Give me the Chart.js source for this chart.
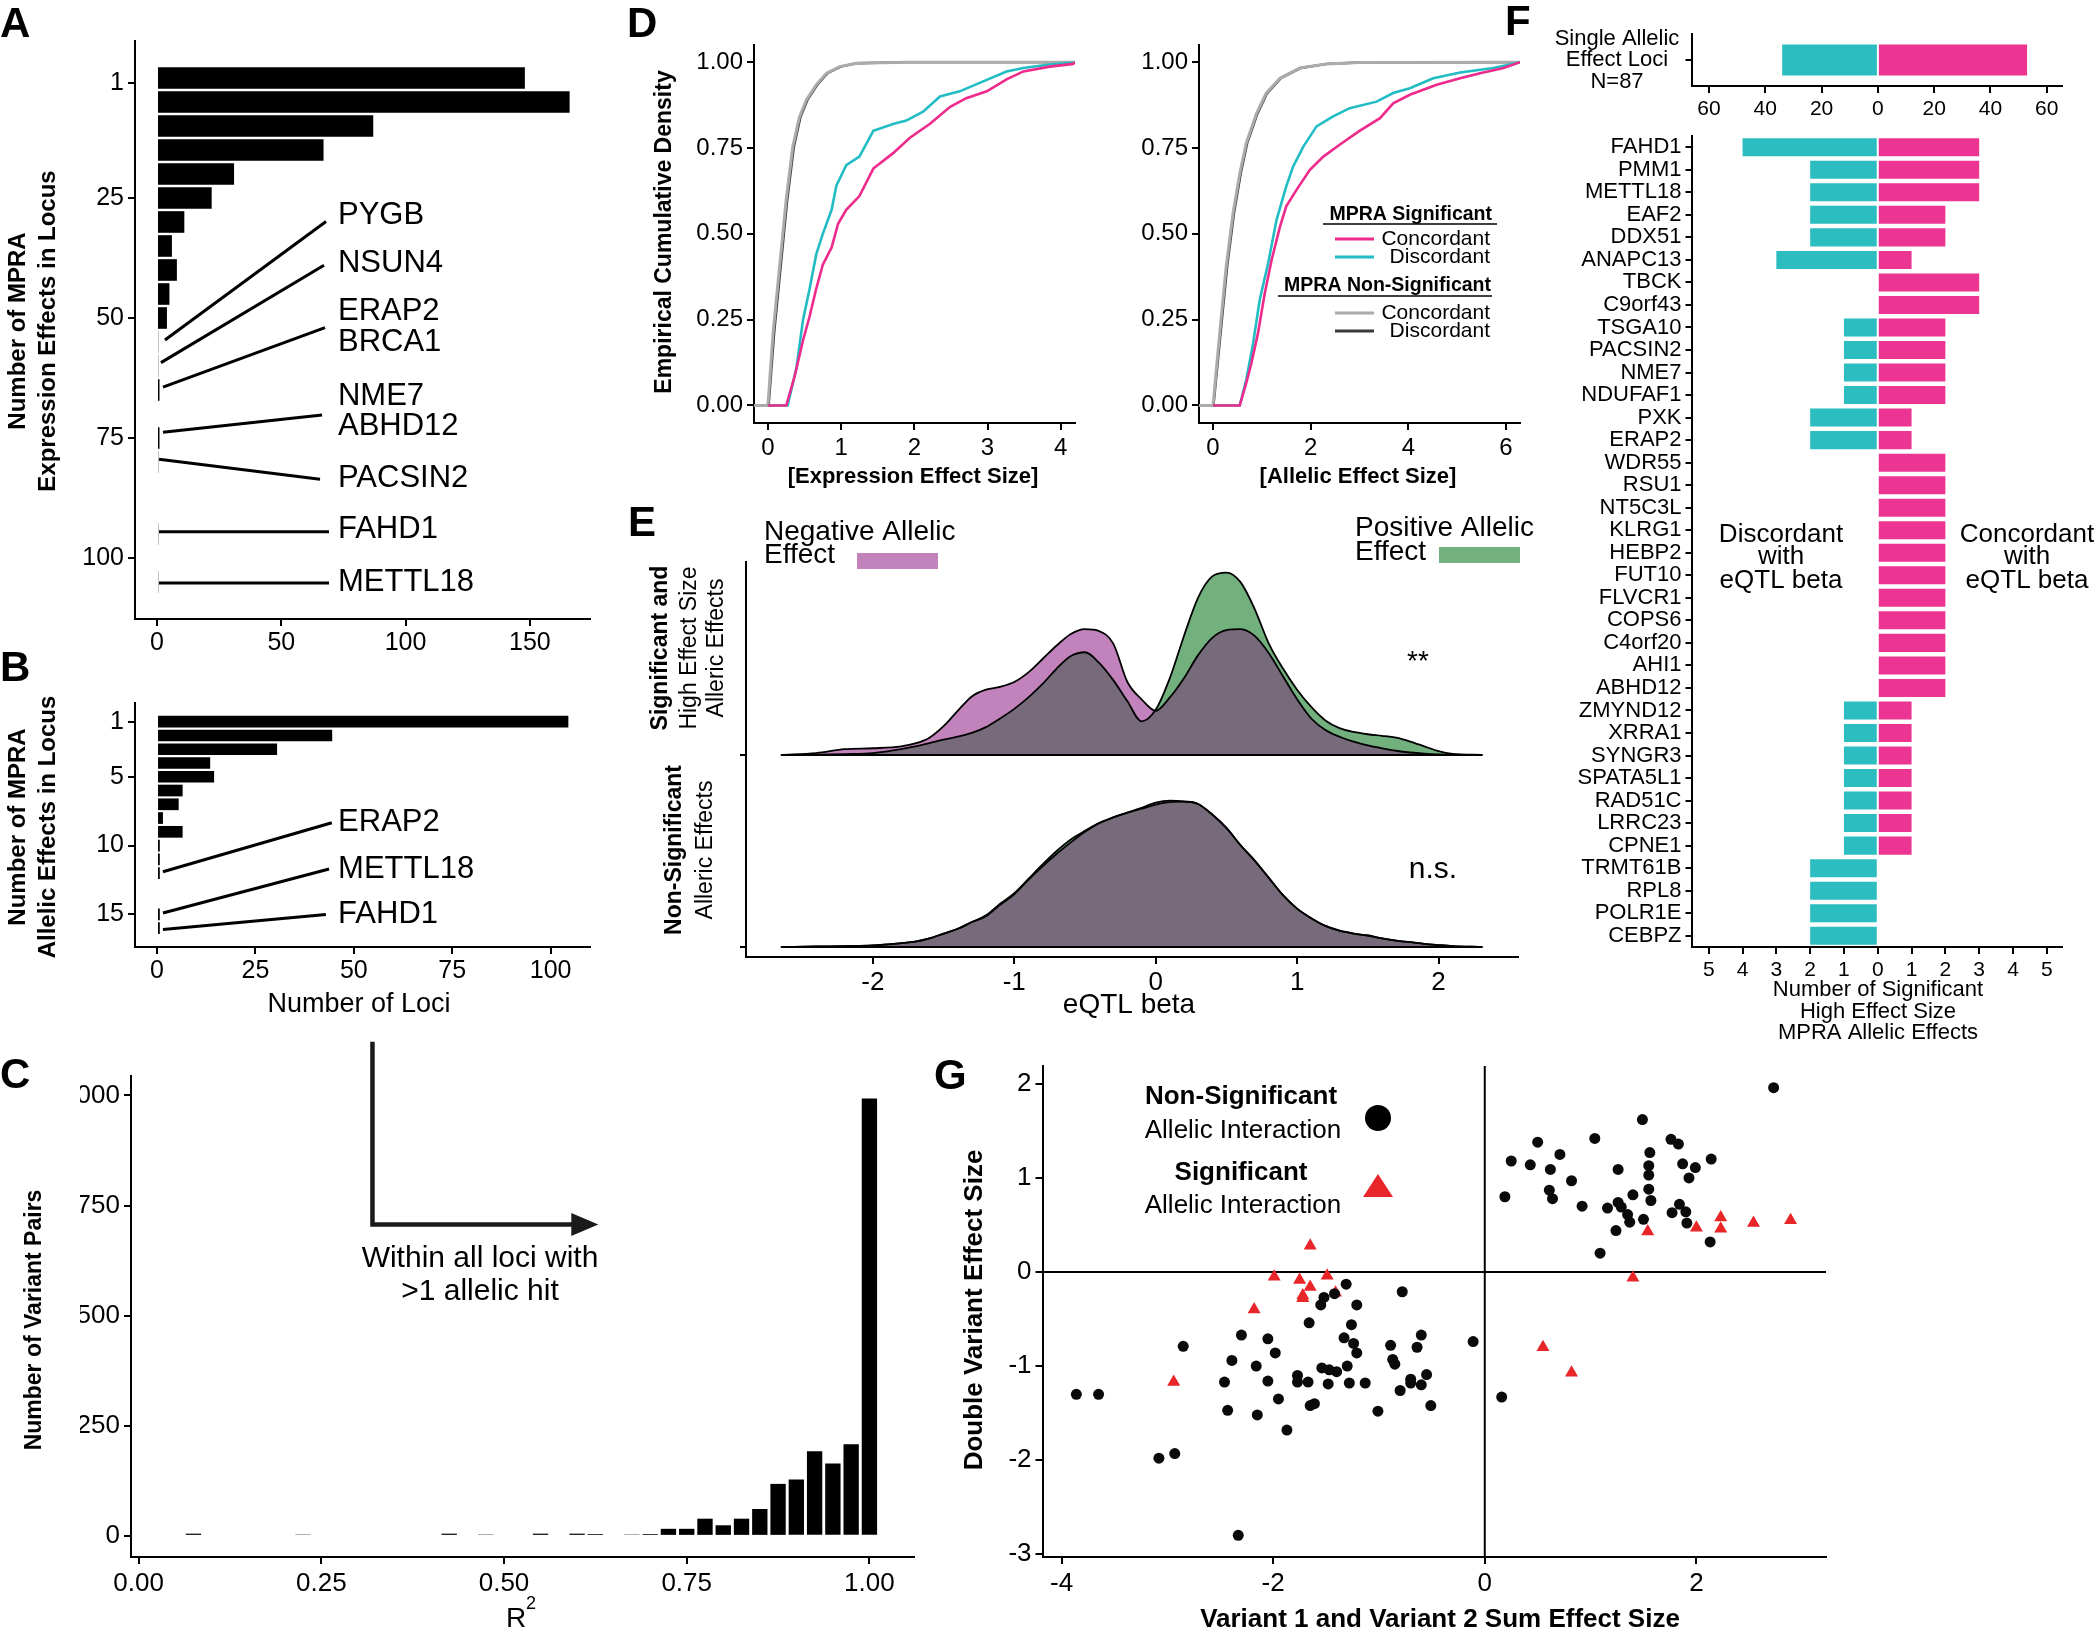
<!DOCTYPE html>
<html>
<head>
<meta charset="utf-8">
<script src="https://cdn.jsdelivr.net/npm/chart.js@4.4.1/dist/chart.umd.min.js"></script>
<style>
  html, body { margin: 0; padding: 0; background: #fff; }
  #page { position: relative; width: 2100px; height: 1630px; overflow: hidden; background: #fff; }
  #page canvas { position: absolute; left: 0; top: 0; }
</style>
</head>
<body>
<div id="page"></div>
<script>
const W = 2100, H = 1630;
const SANS = '"Liberation Sans", Arial, Helvetica, sans-serif';
Chart.defaults.font.family = SANS;
Chart.defaults.color = '#000';

// ---- A: number of MPRA expression effects per locus
const aBins   = [0, 5, 10, 15, 20, 25, 30, 35, 40, 45, 50, 55, 60, 65, 75, 80, 95, 105];
const aCounts = [148, 166, 87, 67, 31, 22, 11, 6, 8, 5, 4, 0.5, 0.5, 1, 1, 0.5, 0.5, 0.5];
const aGenes  = ['PYGB', 'NSUN4', 'ERAP2', 'BRCA1', 'NME7', 'ABHD12', 'PACSIN2', 'FAHD1', 'METTL18'];
const aGeneY  = [28.7, 38.7, 48.7, 55.0, 66.4, 72.6, 83.5, 94.1, 105.0];
const aGeneX  = 72.8;
const aLeadX0 = [3.2, 1.6, 2.4, 2.4, 0.8, 0.8, 0.8];
const aLeadY0 = [54.6, 59.3, 64.4, 73.8, 79.4, 94.5, 105.2];
const aLeadX1 = [68, 67.2, 67.6, 66.4, 65.6, 69.2, 69.2];
const aLeadY1 = [29.9, 39.0, 52.0, 70.2, 83.6, 94.5, 105.2];

// ---- B: number of MPRA allelic effects per locus
const bBins   = [1, 2, 3, 4, 5, 6, 7, 8, 9, 10, 11, 12, 15, 16];
const bCounts = [104.5, 44.5, 30.5, 13.5, 14.5, 6.5, 5.5, 1.5, 6.5, 0.7, 0.7, 0.7, 0.7, 0.7];
const bGenes  = ['ERAP2', 'METTL18', 'FAHD1'];
const bGeneY  = [8.34, 11.73, 15.0];
const bGeneX  = 46;
const bLeadX0 = [1.5, 1.5, 1.5];
const bLeadY0 = [11.9, 14.9, 16.1];
const bLeadX1 = [44.4, 43.7, 42.9];
const bLeadY1 = [8.34, 11.7, 15.0];

// ---- C: R^2 between variant pairs
const cBins   = [0.075, 0.225, 0.425, 0.475, 0.55, 0.6, 0.625, 0.675, 0.7, 0.725, 0.75, 0.775, 0.8, 0.825, 0.85, 0.875, 0.9, 0.925, 0.95, 0.975, 1.0];
const cCounts = [5, 3, 5, 3, 5, 5, 4, 3, 4, 16, 16, 39, 24, 39, 61, 118, 128, 192, 164, 208, 993];
const cYTicks = [0, 250, 500, 750, 1000];
const cArrowX = [0.32, 0.32, 0.629];
const cArrowY = [1122, 707, 707];

// ---- D: ECDF of |expression effect| and |allelic effect|
const d1SigConcX = [0, 0.25, 0.365, 0.48, 0.57, 0.66, 0.75, 0.87, 0.96, 1.07, 1.25, 1.44, 1.71, 1.94, 2.21, 2.49, 2.71, 2.99, 3.26, 3.49, 3.85, 4.17, 4.2];
const d1SigConcY = [0, 0, 0.085, 0.19, 0.26, 0.34, 0.41, 0.46, 0.53, 0.57, 0.61, 0.69, 0.735, 0.78, 0.82, 0.87, 0.895, 0.915, 0.95, 0.973, 0.987, 0.995, 1];
const d1SigDiscX = [0, 0.27, 0.39, 0.48, 0.57, 0.66, 0.75, 0.87, 0.935, 1.07, 1.25, 1.44, 1.71, 1.89, 2.12, 2.35, 2.62, 2.94, 3.26, 3.49, 3.85, 4.17, 4.2];
const d1SigDiscY = [0, 0, 0.11, 0.25, 0.34, 0.44, 0.50, 0.57, 0.64, 0.70, 0.725, 0.80, 0.82, 0.83, 0.856, 0.90, 0.915, 0.944, 0.973, 0.983, 0.993, 0.999, 1];
const d1NsConcX  = [-0.19, 0, 0.07, 0.16, 0.25, 0.34, 0.43, 0.525, 0.66, 0.80, 0.98, 1.21, 1.9, 4.2];
const d1NsConcY  = [0, 0, 0.21, 0.405, 0.60, 0.754, 0.84, 0.89, 0.934, 0.968, 0.987, 0.997, 1, 1];
const d1NsDiscX  = [-0.19, 0.01, 0.085, 0.175, 0.265, 0.355, 0.445, 0.54, 0.675, 0.815, 0.995, 1.22, 1.9, 4.2];
const d1NsDiscY  = [0, 0, 0.21, 0.405, 0.60, 0.754, 0.84, 0.89, 0.934, 0.968, 0.987, 0.997, 1, 1];
const d2SigConcX = [0, 0.547, 0.68, 0.786, 0.92, 1.06, 1.20, 1.37, 1.50, 1.71, 1.98, 2.26, 2.60, 3.0, 3.42, 3.69, 4.03, 4.58, 5.06, 5.47, 5.95, 6.29];
const d2SigConcY = [0, 0, 0.065, 0.123, 0.21, 0.327, 0.424, 0.52, 0.58, 0.628, 0.686, 0.725, 0.76, 0.80, 0.837, 0.88, 0.905, 0.934, 0.953, 0.968, 0.983, 1];
const d2SigDiscX = [0, 0.547, 0.68, 0.82, 0.957, 1.13, 1.30, 1.50, 1.64, 1.85, 2.12, 2.46, 2.80, 3.35, 3.69, 4.03, 4.51, 5.06, 5.74, 6.29];
const d2SigDiscY = [0, 0, 0.075, 0.18, 0.308, 0.415, 0.54, 0.638, 0.696, 0.754, 0.813, 0.842, 0.866, 0.885, 0.91, 0.924, 0.953, 0.97, 0.983, 1];
const d2NsConcX  = [-0.287, 0, 0.137, 0.27, 0.41, 0.55, 0.68, 0.89, 1.09, 1.37, 1.78, 2.32, 3.0, 6.29];
const d2NsConcY  = [0, 0, 0.21, 0.405, 0.56, 0.677, 0.764, 0.85, 0.91, 0.953, 0.983, 0.995, 0.999, 1];
const d2NsDiscX  = [-0.287, 0.01, 0.155, 0.29, 0.43, 0.57, 0.70, 0.91, 1.11, 1.39, 1.8, 2.34, 3.0, 6.29];
const d2NsDiscY  = [0, 0, 0.21, 0.405, 0.56, 0.677, 0.764, 0.85, 0.91, 0.953, 0.983, 0.995, 0.999, 1];
const dLegendLabels = ['Concordant', 'Discordant', 'Concordant', 'Discordant'];

// ---- E: eQTL beta densities (ridges)
const eGrid   = [-2.65, -2.4, -2.2, -2.0, -1.8, -1.7, -1.6, -1.5, -1.4, -1.3, -1.2, -1.1, -1.0, -0.9, -0.8, -0.7, -0.6, -0.5, -0.4, -0.3, -0.2, -0.1, 0, 0.1, 0.2, 0.3, 0.4, 0.5, 0.6, 0.7, 0.8, 0.9, 1.0, 1.1, 1.2, 1.3, 1.4, 1.5, 1.6, 1.7, 1.8, 1.9, 2.0, 2.1, 2.31];
const eTopNeg = [0, 0.01, 0.03, 0.035, 0.045, 0.06, 0.09, 0.15, 0.23, 0.305, 0.34, 0.355, 0.38, 0.43, 0.50, 0.57, 0.63, 0.655, 0.645, 0.58, 0.38, 0.29, 0.23, 0.30, 0.40, 0.52, 0.61, 0.65, 0.655, 0.62, 0.53, 0.41, 0.29, 0.19, 0.13, 0.095, 0.07, 0.05, 0.035, 0.022, 0.013, 0.007, 0.003, 0.001, 0];
const eTopPos = [0, 0.002, 0.005, 0.01, 0.03, 0.045, 0.062, 0.08, 0.095, 0.115, 0.145, 0.19, 0.24, 0.30, 0.37, 0.45, 0.515, 0.535, 0.48, 0.39, 0.28, 0.175, 0.235, 0.40, 0.62, 0.82, 0.93, 0.95, 0.90, 0.76, 0.58, 0.45, 0.34, 0.25, 0.18, 0.14, 0.12, 0.108, 0.10, 0.09, 0.07, 0.045, 0.02, 0.006, 0];
const eBotNeg = [0, 0.003, 0.005, 0.008, 0.02, 0.028, 0.045, 0.07, 0.095, 0.13, 0.16, 0.22, 0.275, 0.35, 0.42, 0.485, 0.545, 0.60, 0.645, 0.675, 0.70, 0.725, 0.752, 0.762, 0.758, 0.745, 0.69, 0.62, 0.53, 0.45, 0.36, 0.27, 0.20, 0.15, 0.11, 0.085, 0.07, 0.06, 0.045, 0.033, 0.025, 0.016, 0.01, 0.005, 0];
const eBotPos = [0, 0.003, 0.005, 0.008, 0.02, 0.028, 0.045, 0.07, 0.095, 0.13, 0.165, 0.225, 0.28, 0.355, 0.43, 0.50, 0.56, 0.605, 0.645, 0.675, 0.70, 0.72, 0.742, 0.755, 0.757, 0.745, 0.69, 0.62, 0.53, 0.45, 0.36, 0.27, 0.20, 0.15, 0.11, 0.085, 0.07, 0.06, 0.045, 0.033, 0.025, 0.016, 0.01, 0.005, 0];

// ---- F: concordant / discordant allelic effects per locus
const fSingleDisc = 34, fSingleConc = 53;
const fGenes = ['FAHD1', 'PMM1', 'METTL18', 'EAF2', 'DDX51', 'ANAPC13', 'TBCK', 'C9orf43', 'TSGA10', 'PACSIN2', 'NME7', 'NDUFAF1', 'PXK', 'ERAP2', 'WDR55', 'RSU1', 'NT5C3L', 'KLRG1', 'HEBP2', 'FUT10', 'FLVCR1', 'COPS6', 'C4orf20', 'AHI1', 'ABHD12', 'ZMYND12', 'XRRA1', 'SYNGR3', 'SPATA5L1', 'RAD51C', 'LRRC23', 'CPNE1', 'TRMT61B', 'RPL8', 'POLR1E', 'CEBPZ'];
const fDiscordant = [4, 2, 2, 2, 2, 3, 0, 0, 1, 1, 1, 1, 2, 2, 0, 0, 0, 0, 0, 0, 0, 0, 0, 0, 0, 1, 1, 1, 1, 1, 1, 1, 2, 2, 2, 2];
const fConcordant = [3, 3, 3, 2, 2, 1, 3, 3, 2, 2, 2, 2, 1, 1, 2, 2, 2, 2, 2, 2, 2, 2, 2, 2, 2, 1, 1, 1, 1, 1, 1, 1, 0, 0, 0, 0];

// ---- G: double variant vs summed single variant effects
const gNonSigX = [2.73, 1.49, 0.50, 1.04, 1.76, 1.83, 1.56, 0.71, 0.25, 0.43, 2.14, 1.87, 1.55, 1.99, 0.62, 1.26, 1.55, 1.93, 0.82, 1.55, 0.61, 0.19, 1.40, 0.64, 1.57, 1.26, 1.84, 0.92, 1.16, 1.29, 1.90, 1.77, 1.35, 1.50, 1.37, 1.91, 1.24, 2.13, 1.09,
  -1.31, -0.78, -1.42, -1.52, -1.21, -1.55, -1.66, -1.26, -0.60, -2.30, -1.33, -2.05, -0.11, -1.24, -2.85, -0.89, -0.64, -1.21, -1.98, -2.39, -0.87, -0.85, -1.30, -2.16, -1.54, -1.47, -1.40, -0.55, -1.77, -0.70, -2.46, -2.05, -1.77, -1.67, -1.48, -1.28, -1.13, -0.70, -0.60, -0.80, -3.86, -3.65, 0.16, -1.95, -1.61, -1.65, -0.51, -2.43, -1.01, -2.15, -1.87, -2.93, -3.08, -2.33];
const gNonSigY = [1.96, 1.62, 1.38, 1.42, 1.41, 1.36, 1.27, 1.25, 1.18, 1.14, 1.20, 1.15, 1.13, 1.11, 1.09, 1.09, 1.03, 1.00, 0.97, 0.88, 0.87, 0.80, 0.82, 0.78, 0.76, 0.74, 0.72, 0.70, 0.68, 0.69, 0.64, 0.63, 0.61, 0.56, 0.53, 0.52, 0.44, 0.32, 0.20,
  -0.13, -0.21, -0.23, -0.27, -0.35, -0.35, -0.54, -0.56, -0.67, -0.67, -0.70, -0.71, -0.74, -0.76, -0.79, -0.78, -0.80, -0.86, -0.86, -0.94, -0.93, -0.98, -1.00, -1.00, -1.02, -1.04, -1.06, -1.09, -1.10, -1.14, -1.17, -1.16, -1.17, -1.17, -1.19, -1.18, -1.18, -1.18, -1.20, -1.26, -1.30, -1.30, -1.33, -1.35, -1.40, -1.42, -1.42, -1.47, -1.48, -1.52, -1.68, -1.93, -1.98, -2.80];
const gSigX = [-1.65, -1.99, -1.49, -1.75, -1.65, -1.41, -1.72, -1.72, -2.18, -2.94, 0.55, 0.82, 1.40, 1.54, 2.00, 2.23, 2.23, 2.54, 2.89];
const gSigY = [0.28, -0.05, -0.04, -0.085, -0.16, -0.22, -0.25, -0.28, -0.40, -1.17, -0.80, -1.07, -0.06, 0.43, 0.47, 0.58, 0.46, 0.52, 0.55];

// colours
const PINK = '#EE2A8C', CYAN = '#22BCC4', LGRAY = '#ABABAB', DGRAY = '#3A3A3A';
const F_PINK = '#EC3592', F_CYAN = '#2BBDBF';
const E_PINK = '#C283BC', E_GREEN = '#72B07E', E_GRAY = '#776A7B';
const G_RED = '#E8262A';
const ROT = -Math.PI / 2;

function drawText(ctx, it) {
  const [str, x, y, size, o = {}] = it;
  ctx.save();
  ctx.font = (o.bold ? 'bold ' : '') + size + 'px ' + SANS;
  ctx.fillStyle = o.color || '#000';
  ctx.textAlign = o.align || 'center';
  ctx.textBaseline = o.base || 'middle';
  ctx.translate(x, y);
  if (o.rot) ctx.rotate(o.rot);
  ctx.fillText(str, 0, 0);
  ctx.restore();
}

Chart.register({
  id: 'pageText',
  afterDraw(chart, args, opts) {
    (opts.items || []).forEach(it => drawText(chart.ctx, it));
  }
});

function scale(min, max, ticks, o) {
  o = o || {};
  return {
    type: 'linear', min: min, max: max, reverse: !!o.reverse, offset: false, stacked: !!o.stacked,
    afterBuildTicks: s => { s.ticks = ticks.map(v => ({value: v})); },
    grid: {display: true, drawOnChartArea: false, drawTicks: true, tickLength: o.tl || 7, color: '#000', lineWidth: 2, offset: false},
    border: {display: true, color: '#000', width: 2},
    ticks: {display: o.labels !== false, color: '#000', font: {size: o.size || 24}, padding: o.pad === undefined ? 4 : o.pad,
      maxRotation: 0, minRotation: 0, autoSkip: false, callback: o.fmt || (v => String(v))}
  };
}

function catScale(o) {
  return {
    type: 'category', offset: true, stacked: true,
    grid: {display: true, drawOnChartArea: false, drawTicks: true, tickLength: 6, color: '#000', lineWidth: 2, offset: false},
    border: {display: true, color: '#000', width: 2},
    ticks: {display: o.labels !== false, color: '#000', font: {size: o.size || 22}, padding: 4, autoSkip: false}
  };
}

function makeChart(area, cfg, items, plugins) {
  const cv = document.createElement('canvas');
  cv.width = W; cv.height = H;
  cv.style.width = W + 'px'; cv.style.height = H + 'px';
  document.getElementById('page').appendChild(cv);
  const o = cfg.options;
  o.responsive = false;
  o.animation = false;
  o.events = [];
  o.scales.x.afterFit = s => { s.height = H - area.b; };
  o.scales.y.afterFit = s => { s.width = area.l; };
  o.layout = {padding: {left: 0, top: area.t, right: W - area.r, bottom: 0}};
  o.plugins = Object.assign({legend: {display: false}, tooltip: {enabled: false}, pageText: {items: items}}, o.plugins || {});
  cfg.plugins = plugins || [];
  return new Chart(cv, cfg);
}

function segments(chart, x0, y0, x1, y1, width, color) {
  const xs = chart.scales.x, ys = chart.scales.y, ctx = chart.ctx;
  ctx.save();
  ctx.strokeStyle = color; ctx.lineWidth = width;
  for (let i = 0; i < x0.length; i++) {
    ctx.beginPath();
    ctx.moveTo(xs.getPixelForValue(x0[i]), ys.getPixelForValue(y0[i]));
    ctx.lineTo(xs.getPixelForValue(x1[i]), ys.getPixelForValue(y1[i]));
    ctx.stroke();
  }
  ctx.restore();
}

function geneLabels(chart, names, x, ys, size) {
  const ctx = chart.ctx;
  names.forEach((n, i) => drawText(ctx, [n, chart.scales.x.getPixelForValue(x), chart.scales.y.getPixelForValue(ys[i]), size, {align: 'left'}]));
}

const pts = (xs, ys) => xs.map((x, i) => ({x: x, y: ys[i]}));

// ================= A =================
makeChart({l: 135, t: 41, r: 590, b: 619}, {
  type: 'bar',
  data: {datasets: [{data: aBins.map((b, i) => ({x: aCounts[i], y: b})), backgroundColor: '#000', borderWidth: 0,
    barPercentage: 0.9, categoryPercentage: 1}]},
  options: {indexAxis: 'y', scales: {
    x: scale(-8.85, 174.2, [0, 50, 100, 150], {size: 25, pad: 2}),
    y: scale(-7.7, 112.7, [1, 25, 50, 75, 100], {reverse: true, size: 25})
  }}
}, [
  ['A', 0, 37, 42, {bold: true, align: 'left', base: 'alphabetic'}],
  ['Number of MPRA', 18, 331, 24, {bold: true, rot: ROT}],
  ['Expression Effects in Locus', 48, 331, 24, {bold: true, rot: ROT}]
], [{id: 'aNotes', afterDraw(c) {
  segments(c, aLeadX0, aLeadY0, aLeadX1, aLeadY1, 3, '#000');
  geneLabels(c, aGenes, aGeneX, aGeneY, 31);
}}]);

// ================= B =================
makeChart({l: 135, t: 703, r: 590, b: 947}, {
  type: 'bar',
  data: {datasets: [{data: bBins.map((b, i) => ({x: bCounts[i], y: b})), backgroundColor: '#000', borderWidth: 0,
    barPercentage: 0.85, categoryPercentage: 1}]},
  options: {indexAxis: 'y', scales: {
    x: scale(-5.6, 110, [0, 25, 50, 75, 100], {size: 25, pad: 2}),
    y: scale(-0.36, 17.37, [1, 5, 10, 15], {reverse: true, size: 25})
  }}
}, [
  ['B', 0, 681, 42, {bold: true, align: 'left', base: 'alphabetic'}],
  ['Number of MPRA', 18, 827, 24, {bold: true, rot: ROT}],
  ['Allelic Effects in Locus', 48, 827, 24, {bold: true, rot: ROT}],
  ['Number of Loci', 359, 1005, 27]
], [{id: 'bNotes', afterDraw(c) {
  segments(c, bLeadX0, bLeadY0, bLeadX1, bLeadY1, 3, '#000');
  geneLabels(c, bGenes, bGeneX, bGeneY, 31);
}}]);

// ================= C =================
makeChart({l: 131, t: 1076, r: 914, b: 1557}, {
  type: 'bar',
  data: {datasets: [{data: cBins.map((b, i) => ({x: b, y: cCounts[i]})), backgroundColor: '#000', borderWidth: 0,
    barPercentage: 0.84, categoryPercentage: 1}]},
  options: {scales: {
    x: scale(-0.0104, 1.061, [0, 0.25, 0.5, 0.75, 1], {size: 26, fmt: v => v.toFixed(2)}),
    y: scale(-48, 1044, cYTicks, {labels: false})
  }}
}, [
  ['C', 0, 1088, 42, {bold: true, align: 'left', base: 'alphabetic'}],
  ['Within all loci with', 480, 1259, 30],
  ['>1 allelic hit', 480, 1292, 30],
  ['R', 516, 1619, 28],
  ['2', 531, 1604, 18],
  ['Number of Variant Pairs', 35, 1320, 23, {bold: true, rot: ROT}]
], [{id: 'cNotes', afterDraw(c) {
  const ctx = c.ctx, xs = c.scales.x, ys = c.scales.y;
  // tick labels are cut by the neighbouring panel
  ctx.save();
  ctx.beginPath(); ctx.rect(80, 0, W, H); ctx.clip();
  ctx.font = '26px ' + SANS; ctx.fillStyle = '#000'; ctx.textAlign = 'right'; ctx.textBaseline = 'middle';
  cYTicks.forEach(v => ctx.fillText(String(v), c.chartArea.left - 11, ys.getPixelForValue(v)));
  ctx.restore();
  // arrow
  const px = cArrowX.map(v => xs.getPixelForValue(v)), py = cArrowY.map(v => ys.getPixelForValue(v));
  ctx.save();
  ctx.strokeStyle = '#1a1a1a'; ctx.fillStyle = '#1a1a1a'; ctx.lineWidth = 4.5;
  ctx.beginPath(); ctx.moveTo(px[0], py[0]); ctx.lineTo(px[1], py[1]); ctx.lineTo(px[2] - 24, py[2]); ctx.stroke();
  ctx.beginPath(); ctx.moveTo(px[2], py[2]); ctx.lineTo(px[2] - 27, py[2] - 11.5); ctx.lineTo(px[2] - 27, py[2] + 11.5); ctx.closePath(); ctx.fill();
  ctx.restore();
}}]);

// ================= D =================
function ecdf(xs, ys, color, w) {
  return {data: pts(xs, ys), showLine: true, borderColor: color, borderWidth: w, pointRadius: 0, tension: 0, fill: false};
}
const dYAxis = () => scale(-0.051, 1.05, [0, 0.25, 0.5, 0.75, 1], {size: 24, fmt: v => v.toFixed(2)});

// earlier datasets are drawn on top
makeChart({l: 754, t: 45, r: 1075, b: 423}, {
  type: 'scatter',
  data: {datasets: [
    ecdf(d1SigConcX, d1SigConcY, PINK, 2.6),
    ecdf(d1SigDiscX, d1SigDiscY, CYAN, 2.6),
    ecdf(d1NsConcX, d1NsConcY, LGRAY, 3),
    ecdf(d1NsDiscX, d1NsDiscY, DGRAY, 2.4)
  ]},
  options: {scales: {x: scale(-0.19, 4.195, [0, 1, 2, 3, 4], {size: 24}), y: dYAxis()}}
}, [
  ['D', 627, 37, 42, {bold: true, align: 'left', base: 'alphabetic'}],
  ['Empirical Cumulative Density', 665, 232, 23, {bold: true, rot: ROT}],
  ['[Expression Effect Size]', 913, 477, 22, {bold: true}]
]);

const dLegendColors = [PINK, CYAN, LGRAY, DGRAY];
const dLegendRowY = [239, 257, 313, 331];
makeChart({l: 1199, t: 45, r: 1520, b: 423}, {
  type: 'scatter',
  data: {datasets: [
    ecdf(d2SigConcX, d2SigConcY, PINK, 2.6),
    ecdf(d2SigDiscX, d2SigDiscY, CYAN, 2.6),
    ecdf(d2NsConcX, d2NsConcY, LGRAY, 3),
    ecdf(d2NsDiscX, d2NsDiscY, DGRAY, 2.4)
  ]},
  options: {scales: {x: scale(-0.287, 6.287, [0, 2, 4, 6], {size: 24}), y: dYAxis()}}
}, [
  ['[Allelic Effect Size]', 1358, 477, 22, {bold: true}],
  ['MPRA Significant', 1492, 215, 19.5, {bold: true, align: 'right'}],
  ['MPRA Non-Significant', 1491, 286, 19.5, {bold: true, align: 'right'}]
], [{id: 'dLegend', afterDraw(c) {
  const ctx = c.ctx;
  ctx.save();
  ctx.strokeStyle = '#000'; ctx.lineWidth = 1.5;
  ctx.beginPath(); ctx.moveTo(1323, 224); ctx.lineTo(1497, 224); ctx.stroke();
  ctx.beginPath(); ctx.moveTo(1278, 296); ctx.lineTo(1492, 296); ctx.stroke();
  dLegendLabels.forEach((lab, i) => {
    ctx.strokeStyle = dLegendColors[i]; ctx.lineWidth = 3;
    ctx.beginPath(); ctx.moveTo(1335, dLegendRowY[i]); ctx.lineTo(1374, dLegendRowY[i]); ctx.stroke();
    drawText(ctx, [lab, 1490, dLegendRowY[i], 21, {align: 'right'}]);
  });
  ctx.restore();
}}]);

// ================= E =================
function ridge(base, neg, pos, first) {
  const make = arr => arr.map((h, i) => ({x: eGrid[i], y: base + h}));
  const outline = {showLine: true, pointRadius: 0, cubicInterpolationMode: 'monotone', borderColor: '#000', borderWidth: 1.8,
    backgroundColor: E_GRAY, fill: {value: base}, order: 3};
  const band = {showLine: true, pointRadius: 0, cubicInterpolationMode: 'monotone', borderWidth: 0, order: 2};
  return [
    Object.assign({data: make(neg)}, outline),
    Object.assign({data: make(pos)}, outline),
    Object.assign({data: make(neg), fill: {target: first + 1, above: E_PINK, below: 'rgba(0,0,0,0)'}}, band),
    Object.assign({data: make(pos), fill: {target: first, above: E_GREEN, below: 'rgba(0,0,0,0)'}}, band),
    {data: [{x: eGrid[0], y: base}, {x: eGrid[eGrid.length - 1], y: base}], showLine: true, pointRadius: 0,
      borderColor: '#000', borderWidth: 1.8, fill: false, order: 1}
  ];
}
makeChart({l: 746, t: 562, r: 1518, b: 957}, {
  type: 'line',
  data: {datasets: ridge(1, eTopNeg, eTopPos, 0).concat(ridge(0, eBotNeg, eBotPos, 5))},
  options: {
    plugins: {filler: {drawTime: 'beforeDatasetsDraw'}},
    scales: {
      x: scale(-2.897, 2.562, [-2, -1, 0, 1, 2], {size: 26, pad: 3}),
      y: scale(-0.052, 2.005, [0, 1], {labels: false, tl: 6})
    }
  }
}, [
  ['E', 628, 536, 42, {bold: true, align: 'left', base: 'alphabetic'}],
  ['Negative Allelic', 764, 532, 28, {align: 'left'}],
  ['Effect', 764, 555, 28, {align: 'left'}],
  ['Positive Allelic', 1355, 528, 28, {align: 'left'}],
  ['Effect', 1355, 552, 28, {align: 'left'}],
  ['**', 1418, 662, 28],
  ['n.s.', 1433, 870, 30],
  ['eQTL beta', 1129, 1005, 28],
  ['Significant and', 661, 648, 23, {bold: true, rot: ROT}],
  ['High Effect Size', 690, 648, 23, {rot: ROT}],
  ['Alleric Effects', 717, 648, 23, {rot: ROT}],
  ['Non-Significant', 675, 850, 23, {bold: true, rot: ROT}],
  ['Alleric Effects', 706, 850, 23, {rot: ROT}]
], [{id: 'eKeys', afterDraw(c) {
  const ctx = c.ctx;
  ctx.save();
  ctx.fillStyle = E_PINK; ctx.fillRect(857, 553, 81, 16);
  ctx.fillStyle = E_GREEN; ctx.fillRect(1439, 547, 81, 16);
  ctx.restore();
}}]);

// ================= F =================
makeChart({l: 1691.5, t: 34, r: 2062, b: 86}, {
  type: 'bar',
  data: {labels: ['Single Allelic Effect Loci'], datasets: [
    {data: [-fSingleDisc], backgroundColor: F_CYAN, borderWidth: 0, barPercentage: 0.6, categoryPercentage: 1},
    {data: [fSingleConc], backgroundColor: F_PINK, borderWidth: 0, barPercentage: 0.6, categoryPercentage: 1}
  ]},
  options: {indexAxis: 'y', scales: {
    x: scale(-66.2, 65.4, [-60, -40, -20, 0, 20, 40, 60], {size: 21, stacked: true, fmt: v => String(Math.abs(v))}),
    y: catScale({labels: false})
  }}
}, [
  ['F', 1505, 35, 42, {bold: true, align: 'left', base: 'alphabetic'}],
  ['Single Allelic', 1617, 39, 22],
  ['Effect Loci', 1617, 60, 22],
  ['N=87', 1617, 82, 22]
]);

makeChart({l: 1691.5, t: 136, r: 2062, b: 947}, {
  type: 'bar',
  data: {labels: fGenes, datasets: [
    {data: fDiscordant.map(v => -v), backgroundColor: F_CYAN, borderWidth: 0, barPercentage: 0.8, categoryPercentage: 1},
    {data: fConcordant, backgroundColor: F_PINK, borderWidth: 0, barPercentage: 0.8, categoryPercentage: 1}
  ]},
  options: {indexAxis: 'y', scales: {
    x: scale(-5.51, 5.45, [-5, -4, -3, -2, -1, 0, 1, 2, 3, 4, 5], {size: 21, stacked: true, fmt: v => String(Math.abs(v))}),
    y: catScale({size: 22})
  }}
}, [
  ['Discordant', 1781, 535, 26], ['with', 1781, 557, 26], ['eQTL beta', 1781, 581, 26],
  ['Concordant', 2027, 535, 26], ['with', 2027, 557, 26], ['eQTL beta', 2027, 581, 26],
  ['Number of Significant', 1878, 990, 22],
  ['High Effect Size', 1878, 1012, 22],
  ['MPRA Allelic Effects', 1878, 1033, 22]
]);

// ================= G =================
makeChart({l: 1042.5, t: 1066, r: 1826, b: 1557}, {
  type: 'scatter',
  data: {datasets: [
    {data: pts(gNonSigX, gNonSigY), pointStyle: 'circle', pointRadius: 5.5, backgroundColor: '#0a0a0a', borderWidth: 0, order: 0},
    {data: pts(gSigX, gSigY), pointStyle: 'triangle', pointRadius: 7.5, backgroundColor: G_RED, borderWidth: 0, order: 1}
  ]},
  options: {scales: {
    x: scale(-4.18, 3.225, [-4, -2, 0, 2], {size: 26}),
    y: scale(-3.03, 2.19, [-3, -2, -1, 0, 1, 2], {size: 26})
  }}
}, [
  ['G', 934, 1089, 42, {bold: true, align: 'left', base: 'alphabetic'}],
  ['Non-Significant', 1241, 1097, 26, {bold: true}],
  ['Allelic Interaction', 1243, 1131, 26],
  ['Significant', 1241, 1173, 26, {bold: true}],
  ['Allelic Interaction', 1243, 1206, 26],
  ['Double Variant Effect Size', 975, 1310, 26, {bold: true, rot: ROT}],
  ['Variant 1 and Variant 2 Sum Effect Size', 1440, 1620, 26, {bold: true}]
], [{id: 'gNotes',
  beforeDatasetsDraw(c) {
    const ctx = c.ctx, a = c.chartArea;
    const x0 = c.scales.x.getPixelForValue(0), y0 = c.scales.y.getPixelForValue(0);
    ctx.save();
    ctx.strokeStyle = '#000'; ctx.lineWidth = 2;
    ctx.beginPath(); ctx.moveTo(a.left, y0); ctx.lineTo(a.right, y0); ctx.stroke();
    ctx.beginPath(); ctx.moveTo(x0, a.top); ctx.lineTo(x0, a.bottom); ctx.stroke();
    ctx.restore();
  },
  afterDraw(c) {
    const ctx = c.ctx;
    ctx.save();
    ctx.fillStyle = '#000';
    ctx.beginPath(); ctx.arc(1378, 1118, 13, 0, Math.PI * 2); ctx.fill();
    ctx.fillStyle = G_RED;
    ctx.beginPath(); ctx.moveTo(1378, 1174); ctx.lineTo(1393, 1197); ctx.lineTo(1363, 1197); ctx.closePath(); ctx.fill();
    ctx.restore();
  }
}]);
</script>
</body>
</html>
